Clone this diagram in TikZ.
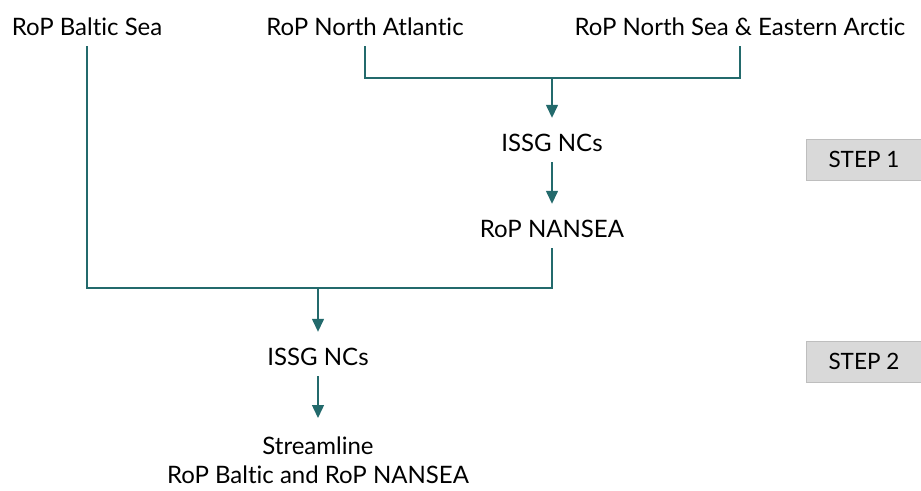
\documentclass[tikz,border=0pt]{standalone}
\usepackage{fontspec}
\setmainfont[Ligatures=NoCommon]{Lato}
\usetikzlibrary{arrows.meta}
\definecolor{teal1}{RGB}{35,106,108}
\definecolor{stepfill}{RGB}{217,217,217}
\definecolor{stepdraw}{RGB}{190,190,190}
\begin{document}
\begin{tikzpicture}[x=1pt,y=-1pt,
  lbl/.style={font=\fontsize{24}{30}\selectfont, anchor=base, text height=24pt, text depth=2pt, inner ysep=9pt, inner xsep=0pt},
  link/.style={draw=teal1, line width=1.4pt},
  arr/.style={link, -{Triangle[length=13pt,width=12pt]}},
  stepbox/.style={fill=stepfill, draw=stepdraw, line width=0.8pt, minimum width=115pt, minimum height=41pt, inner sep=0pt, font=\fontsize{22.5}{26}\selectfont}]
\useasboundingbox (0,0) rectangle (921,490);
\node[lbl] (baltic) at (87,35) {RoP Baltic Sea};
\node[lbl] (na) at (365,35) {RoP North Atlantic};
\node[lbl] (nsea) at (740,35) {RoP North Sea \& Eastern Arctic};
\node[lbl] (issg1) at (552,151) {ISSG NCs};
\node[lbl] (nansea) at (552,237) {RoP NANSEA};
\node[lbl] (issg2) at (318,365) {ISSG NCs};
\node[lbl, align=center, text height=, text depth=, anchor=north, inner ysep=0pt] (stream) at (318,437) {Streamline\\[-1pt]RoP Baltic and RoP NANSEA};
\coordinate (streamtop) at (318,418);
\coordinate (j1) at (552,78);
\coordinate (j2) at (318,288);
\node[stepbox, anchor=north west] (step1) at (806,139) {STEP 1};
\node[stepbox, anchor=north west] (step2) at (806,341) {STEP 2};
\draw[link] (na.south) |- (j1) -| (nsea.south);
\draw[arr] (j1) -- (issg1.north);
\draw[arr] (issg1.south) -- (nansea.north);
\draw[link] (baltic.south) |- (j2) -| (nansea.south);
\draw[arr] (j2) -- (issg2.north);
\draw[arr] (issg2.south) -- (streamtop);
\end{tikzpicture}
\end{document}
